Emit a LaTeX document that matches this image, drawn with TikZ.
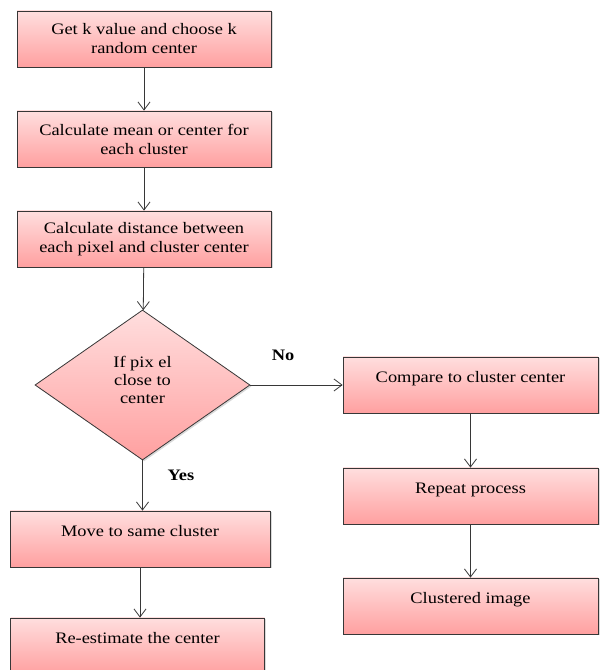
\documentclass[tikz,border=0pt]{standalone}
\usepackage{fontspec}
\setmainfont{Liberation Serif}[FakeStretch=1.15]
\usetikzlibrary{shapes.geometric,arrows.meta,shadows}
\definecolor{boxtop}{RGB}{255,222,222}
\definecolor{boxbot}{RGB}{255,160,160}
\definecolor{edge}{RGB}{55,55,55}

\begin{document}
\begin{tikzpicture}[x=1pt, y=1pt]
		\tikzset{box/.style={rectangle, draw=edge, line width=0.8pt, top color=boxtop, bottom color=boxbot, minimum width=254pt, minimum height=56pt, align=center, font=\fontsize{16}{19}\selectfont, drop shadow={shadow xshift=1.5pt, shadow yshift=-1.5pt, opacity=0.3}},
			one/.style={text height=11pt, text depth=16pt},
			dec/.style={diamond, draw=edge, line width=0.8pt, top color=boxtop, bottom color=boxbot, minimum width=215pt, minimum height=150pt, inner sep=0pt, align=center, font=\fontsize{16}{18}\selectfont, drop shadow={shadow xshift=1.5pt, shadow yshift=-1.5pt, opacity=0.3}},
			arr/.style={draw=edge, line width=0.8pt, -{Straight Barb[length=8pt, width=12pt]}},
			lbl/.style={font=\fontsize{16}{19}\selectfont\bfseries}};

		\useasboundingbox (0,0) rectangle (601,670);

		\node[box] (get) at (144, 631) {Get k value and choose k\\random center};
		\node[box] (mean) at (144, 531) {Calculate mean or center for\\each cluster};
		\node[box] (dist) at (144, 431) {Calculate distance between\\each pixel and cluster center};
		\node[dec] (if) at (142.5, 285) {If pix el\\close to\\center\\[-8pt]};
		\node[box, one, minimum width=260pt] (move) at (140, 131) {Move to same cluster};
		\node[box, one] (re) at (137.5, 24) {Re-estimate the center};
		\node[box, one, minimum width=255pt] (cmp) at (470.5, 285) {Compare to cluster center};
		\node[box, one, minimum width=255pt] (rep) at (470.5, 174) {Repeat process};
		\node[box, one, minimum width=255pt] (clu) at (470.5, 64) {Clustered image};

		\node[lbl] (no) at (283, 315) {No};
		\node[lbl] (yes) at (181, 195) {Yes};

		\draw[arr] (get) to (mean);
		\draw[arr] (mean) to (dist);
		\draw[arr] (dist) to (if);
		\draw[arr] (if.south) to (if.south |- move.north);
		\draw[arr] (move.south) to (move.south |- re.north);
		\draw[arr] (if.east) to (cmp.west);
		\draw[arr] (cmp) to (rep);
		\draw[arr] (rep) to (clu);

	\end{tikzpicture}
\end{document}
